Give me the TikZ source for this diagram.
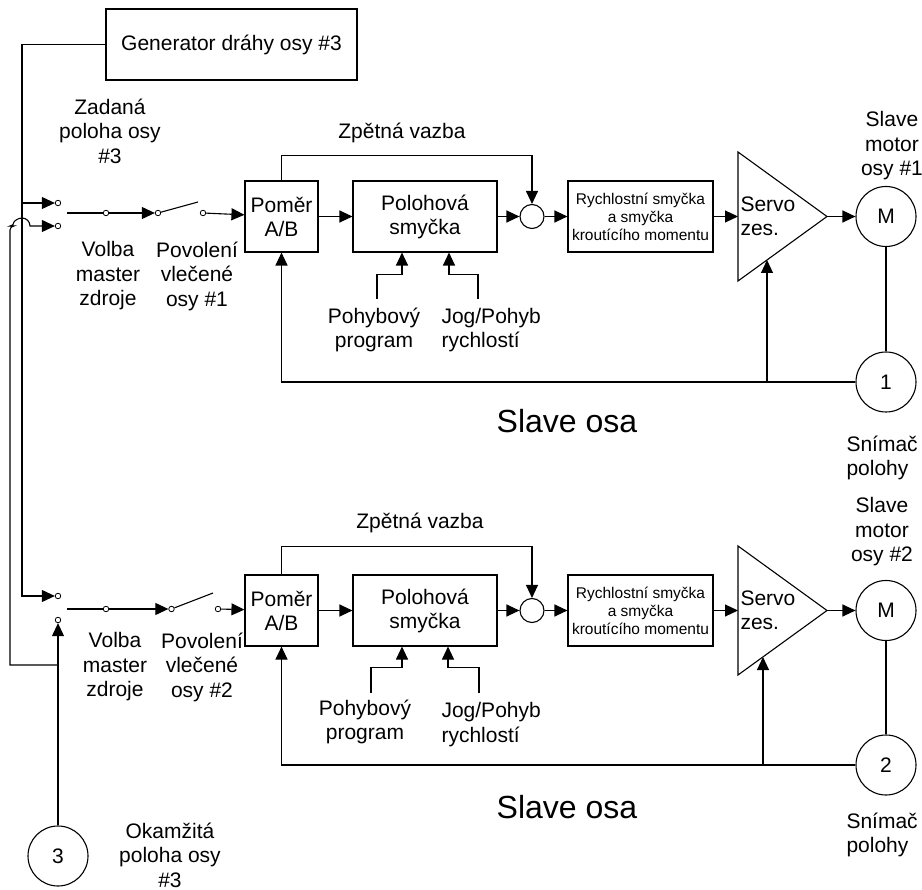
\documentclass[tikz,border=0pt]{standalone}
\usepackage{fontspec}
\setmainfont{Liberation Sans}
\usetikzlibrary{arrows.meta}

\begin{document}
\begin{tikzpicture}[
    x=1pt, y=-1pt, line width=1.1pt,
    >={Triangle[length=13pt,width=12pt]},
    txt/.style={align=center,inner sep=0pt,font=\fontsize{21}{24.5}\selectfont},
    blk/.style={draw,minimum height=71pt,inner sep=0pt,align=center,
                font=\fontsize{21}{24}\selectfont},
    small/.style={font=\fontsize{15.5}{18}\selectfont},
    ct/.style={circle,draw,fill=white,inner sep=0pt,minimum size=5.5pt,line width=0.8pt},
    rnd/.style={circle,draw,minimum size=60pt,inner sep=0pt,font=\fontsize{21}{24}\selectfont},
    sumpt/.style={circle,draw,minimum size=24pt,inner sep=0pt}]
  \useasboundingbox (0,0) rectangle (922,890);

  % master axis #3
  \node[blk,minimum width=251pt] (gen) at (231.5,44.5) {Generator dráhy osy \#3};
  \node[txt] at (110,131) {Zadaná\\poloha osy\\\#3};
  \node[rnd] (enc3) at (58,856) {3};
  \node[txt] at (170,855) {Okamžitá\\poloha osy\\\#3};
  \coordinate (j1) at (22,203);
  \coordinate (j3) at (58,665);

  % slave axis #1
  \node[ct] (a1) at (58,203) {};
  \node[ct] (b1) at (58,226) {};
  \node[ct] (m1) at (106,213) {};
  \node[ct] (p1) at (158,213) {};
  \node[ct] (q1) at (203,213) {};
  \coordinate (m1x) at (67,213);
  \coordinate (p1x) at (198,202);
  \node[txt] at (108,276) {Volba\\master\\zdroje};
  \node[txt] at (197,276) {Povolení\\vlečené\\osy \#1};
  \node[blk,minimum width=73pt] (ratio1) at (281.5,216.5) {Poměr\\A/B};
  \node[blk,minimum width=144pt] (pos1) at (425,216.5) {Polohová\\smyčka};
  \node[sumpt] (sum1) at (532,216.5) {};
  \node[blk,small,minimum width=145pt] (vel1) at (640.5,216.5)
       {Rychlostní smyčka\\a smyčka\\kroutícího momentu};
  \draw (738,152) -- (827,216.5) coordinate (amp1o) -- (738,281) -- cycle;
  \coordinate (amp1i) at (738,216.5);
  \coordinate (amp1f) at (767,260);
  \node[txt,anchor=west,align=left] at (740,216.5) {Servo\\zes.};
  \node[rnd] (mot1) at (886,216.5) {M};
  \node[rnd] (enc1) at (886,382) {1};
  \node[txt] at (892,146) {Slave\\motor\\osy \#1};
  \node[txt,anchor=west,align=left] at (846,458) {Snímač\\polohy};
  \node[txt,font=\fontsize{32}{36}\selectfont] at (567,421) {Slave osa};
  \node[txt] at (402,133) {Zpětná vazba};
  \node[txt] at (374,330) {Pohybový\\program};
  \node[txt,anchor=west,align=left] at (441,330) {Jog/Pohyb\\rychlostí};
  \coordinate (tap1) at (767,382);
  \coordinate (prg1) at (377,299);
  \coordinate (jog1) at (478,299);

  % slave axis #2
  \node[ct] (a2) at (58,596) {};
  \node[ct] (b2) at (58,620) {};
  \node[ct] (m2) at (106,609) {};
  \node[ct] (p2) at (171.5,609) {};
  \node[ct] (q2) at (218,609) {};
  \coordinate (m2x) at (67,609);
  \coordinate (p2x) at (213,593);
  \node[txt] at (115,667) {Volba\\master\\zdroje};
  \node[txt] at (202,667) {Povolení\\vlečené\\osy \#2};
  \node[blk,minimum width=73pt] (ratio2) at (281.5,610.5) {Poměr\\A/B};
  \node[blk,minimum width=144pt] (pos2) at (425,610.5) {Polohová\\smyčka};
  \node[sumpt] (sum2) at (532,610.5) {};
  \node[blk,small,minimum width=145pt] (vel2) at (640.5,610.5)
       {Rychlostní smyčka\\a smyčka\\kroutícího momentu};
  \draw (738,546) -- (827,610.5) coordinate (amp2o) -- (738,675) -- cycle;
  \coordinate (amp2i) at (738,610.5);
  \coordinate (amp2f) at (763,657);
  \node[txt,anchor=west,align=left] at (740,610.5) {Servo\\zes.};
  \node[rnd] (mot2) at (886,610.5) {M};
  \node[rnd] (enc2) at (886,765) {2};
  \node[txt] at (882,532) {Slave\\motor\\osy \#2};
  \node[txt,anchor=west,align=left] at (846,835) {Snímač\\polohy};
  \node[txt,font=\fontsize{32}{36}\selectfont] at (567,807) {Slave osa};
  \node[txt] at (420,523) {Zpětná vazba};
  \node[txt] at (365,722) {Pohybový\\program};
  \node[txt,anchor=west,align=left] at (441,724.5) {Jog/Pohyb\\rychlostí};
  \coordinate (tap2) at (763,765);
  \coordinate (prg2) at (371,693);
  \coordinate (jog2) at (479,693);

  % master source selection
  \draw[->] (gen.west) -| (j1) -- (a1);
  \draw[->] (j1) |- (a2);
  \draw[->] (enc3) -- (b2);
  \draw[->] (j3) -| (10,400) [rounded corners=4pt] -- (10,226) -- (14,226) [sharp corners]
       arc[start angle=180,end angle=0,radius=8pt] -- (b1);

  % connections, axis #1
  \draw (m1) -- (m1x);
  \draw[->] (m1) -- (p1);
  \draw (p1) -- (p1x);
  \draw[->] (q1) -- (ratio1);
  \draw[->] (ratio1) -- (pos1);
  \draw[->] (pos1) -- (sum1);
  \draw[->] (sum1) -- (vel1);
  \draw[->] (vel1) -- (amp1i);
  \draw[->] (amp1o) -- (mot1);
  \draw (mot1) -- (enc1);
  \draw[->] (enc1) -| (ratio1);
  \draw[->] (tap1) -- (amp1f);
  \draw[->] (ratio1.north) -- ++(0,-25) -| (sum1.north);
  \draw[->] (prg1) |- ([xshift=-23pt,yshift=-22pt]pos1.south) -- ([xshift=-23pt]pos1.south);
  \draw[->] (jog1) |- ([xshift=24pt,yshift=-22pt]pos1.south) -- ([xshift=24pt]pos1.south);

  % connections, axis #2
  \draw (m2) -- (m2x);
  \draw[->] (m2) -- (p2);
  \draw (p2) -- (p2x);
  \draw[->] (q2) -- (ratio2);
  \draw[->] (ratio2) -- (pos2);
  \draw[->] (pos2) -- (sum2);
  \draw[->] (sum2) -- (vel2);
  \draw[->] (vel2) -- (amp2i);
  \draw[->] (amp2o) -- (mot2);
  \draw (mot2) -- (enc2);
  \draw[->] (enc2) -| (ratio2);
  \draw[->] (tap2) -- (amp2f);
  \draw[->] (ratio2.north) -- ++(0,-28) -| (sum2.north);
  \draw[->] (prg2) |- ([xshift=-23pt,yshift=-21pt]pos2.south) -- ([xshift=-23pt]pos2.south);
  \draw[->] (jog2) |- ([xshift=23pt,yshift=-21pt]pos2.south) -- ([xshift=23pt]pos2.south);
\end{tikzpicture}
\end{document}
